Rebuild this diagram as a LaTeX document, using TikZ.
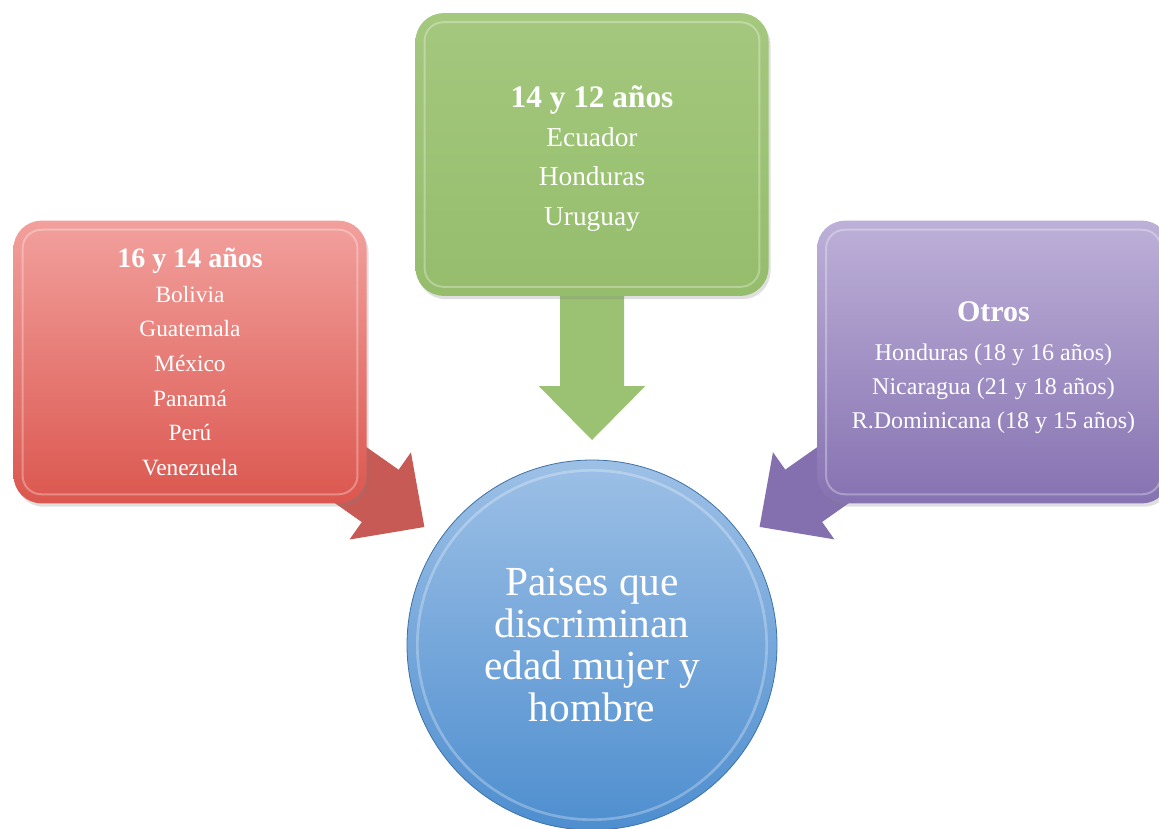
\documentclass[tikz,border=0pt]{standalone}
\usepackage{fontspec}
\setmainfont{Liberation Serif}
\usetikzlibrary{calc,backgrounds,shadows}

\definecolor{redtop}{HTML}{F2A09D}
\definecolor{redbot}{HTML}{DB574F}
\definecolor{redarr}{HTML}{C85A55}
\definecolor{greentop}{HTML}{A4C87E}
\definecolor{greenbot}{HTML}{95BD6C}
\definecolor{greenarr}{HTML}{9BC272}
\definecolor{purptop}{HTML}{BDB0D8}
\definecolor{purpbot}{HTML}{8672B1}
\definecolor{purparr}{HTML}{8470AE}
\definecolor{circtop}{HTML}{9DC0E6}
\definecolor{circbot}{HTML}{4E8ECF}

\newcommand{\fatarrow}[3]{%
  \coordinate (tip) at ($(#3.center)!153.75pt!(#2.center)$);
  \coordinate (base) at ($(tip)!40.5pt!(#2.center)$);
  \fill[#1] ($(#2.center)!24pt!90:(tip)$) -- ($(base)!24pt!90:(tip)$)
    -- ($(base)!40pt!90:(tip)$) -- (tip) -- ($(base)!40pt!-90:(tip)$)
    -- ($(base)!24pt!-90:(tip)$) -- ($(#2.center)!24pt!-90:(tip)$) -- cycle;}

\begin{document}
\begin{tikzpicture}[x=0.75pt, y=-0.75pt,
    card/.style={rounded corners=21pt, minimum width=264.75pt, minimum height=212pt,
      inner sep=0pt, align=center, text=white,
      drop shadow={opacity=0.25, shadow xshift=1.5pt, shadow yshift=-2.5pt}},
    gloss/.style={white, opacity=0.3, line width=1.5pt, rounded corners=14pt},
    hub/.style={circle, minimum size=277.5pt, inner sep=0pt, align=center, text=white,
      top color=circtop, bottom color=circbot, draw=circbot!80!black, line width=0.6pt,
      font=\fontsize{31}{31.5}\selectfont}
]
\useasboundingbox (0,0) rectangle (1159,828);

\node[hub] (circ) at (592,645) {Paises que\\discriminan\\edad mujer y\\hombre};
\draw[white, opacity=0.28, line width=2pt] (circ.center) circle (131pt);

\node[card, top color=redtop, bottom color=redbot,
  font=\fontsize{17.5}{26}\selectfont] (red) at (190,362)
  {{\fontsize{21}{26}\selectfont\bfseries 16 y 14 años}\\Bolivia\\Guatemala\\México\\Panamá\\Perú\\Venezuela};
\node[card, top color=greentop, bottom color=greenbot,
  font=\fontsize{20.5}{29.5}\selectfont] (green) at (592,154.5)
  {{\fontsize{23.5}{29.5}\selectfont\bfseries\rule{0pt}{22pt}14 y 12 años}\\Ecuador\\Honduras\\Uruguay};
\node[card, top color=purptop, bottom color=purpbot,
  font=\fontsize{18}{25.5}\selectfont] (purple) at (993.5,362)
  {{\fontsize{22.5}{25.5}\selectfont\bfseries\rule{0pt}{23pt}Otros}\\[4pt]Honduras (18 y 16 años)\\Nicaragua (21 y 18 años)\\R.Dominicana (18 y 15 años)};

\draw[gloss] ([shift={(7pt,-7pt)}]red.north west) rectangle ([shift={(-7pt,7pt)}]red.south east);
\draw[gloss] ([shift={(7pt,-7pt)}]green.north west) rectangle ([shift={(-7pt,7pt)}]green.south east);
\draw[gloss] ([shift={(7pt,-7pt)}]purple.north west) rectangle ([shift={(-7pt,7pt)}]purple.south east);

\begin{scope}[on background layer]
\fatarrow{redarr}{red}{circ}
\fatarrow{greenarr}{green}{circ}
\fatarrow{purparr}{purple}{circ}
\end{scope}
\end{tikzpicture}
\end{document}
